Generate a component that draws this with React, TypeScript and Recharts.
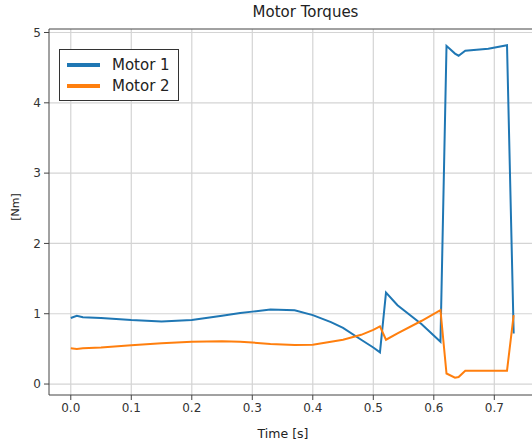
import React from 'react'
import { CartesianGrid, Line, LineChart, ReferenceLine, XAxis, YAxis } from 'recharts'

const times = [0, 0.01, 0.02, 0.05, 0.1, 0.15, 0.2, 0.25, 0.28, 0.3, 0.33, 0.37, 0.4, 0.43, 0.45, 0.48, 0.5, 0.511, 0.521, 0.54, 0.58, 0.611, 0.621, 0.635, 0.641, 0.652, 0.69, 0.721, 0.732]
const motor1 = [0.94, 0.97, 0.95, 0.94, 0.91, 0.89, 0.91, 0.97, 1.01, 1.03, 1.06, 1.05, 0.98, 0.88, 0.8, 0.63, 0.52, 0.45, 1.3, 1.12, 0.85, 0.6, 4.81, 4.7, 4.67, 4.74, 4.77, 4.82, 0.72]
const motor2 = [0.51, 0.5, 0.51, 0.52, 0.55, 0.58, 0.6, 0.61, 0.6, 0.59, 0.57, 0.555, 0.56, 0.6, 0.63, 0.7, 0.77, 0.82, 0.63, 0.72, 0.9, 1.05, 0.15, 0.09, 0.1, 0.19, 0.19, 0.19, 0.98]
const xTicks = [0, 0.1, 0.2, 0.3, 0.4, 0.5, 0.6, 0.7]
const yTicks = [0, 1, 2, 3, 4, 5]
const seriesNames = ['Motor 1', 'Motor 2']
const seriesColors = ['#1f77b4', '#ff7f0e']

const data = times.map((t, i) => ({ t, m1: motor1[i], m2: motor2[i] }))

const font = 'DejaVu Sans, sans-serif'
const X_MIN = -0.036
const X_MAX = 0.7623
const Y_MIN = -0.156
const Y_MAX = 5.05

function LegendBox() {
  return (
    <div style={{ position: 'absolute', left: 59, top: 49, border: '1.5px solid #333', background: '#fff', padding: '4px 8px 4px 7px', fontSize: 15, color: '#222' }}>
      {seriesNames.map((name, i) => (
        <div key={name} style={{ display: 'flex', alignItems: 'center', height: 21 }}>
          <span style={{ display: 'inline-block', width: 33, height: 4, background: seriesColors[i], marginRight: 12 }} />
          {name}
        </div>
      ))}
    </div>
  )
}

export default function App() {
  return (
    <div style={{ position: 'absolute', left: 0, top: 0, width: 532, height: 444, overflow: 'hidden', background: '#fff', fontFamily: font }}>
      <LineChart width={532} height={444} data={data} margin={{ top: 29, right: 0, left: 19, bottom: 19 }}>
        <CartesianGrid stroke="#d4d4d4" strokeWidth={1.2} horizontalValues={yTicks} verticalValues={xTicks} />
        <XAxis
          dataKey="t"
          type="number"
          domain={[X_MIN, X_MAX]}
          ticks={xTicks}
          tickFormatter={(v: number) => v.toFixed(1)}
          height={30}
          tickSize={5}
          tickMargin={3}
          stroke="#444"
          tick={{ fill: '#333', fontSize: 12, fontFamily: font }}
          allowDataOverflow
        />
        <YAxis
          type="number"
          domain={[Y_MIN, Y_MAX]}
          ticks={yTicks}
          width={30}
          tickSize={5}
          tickMargin={3}
          stroke="#444"
          tick={{ fill: '#333', fontSize: 12, fontFamily: font }}
          allowDataOverflow
        />
        <ReferenceLine y={Y_MAX} stroke="#444" strokeWidth={1} />
        <Line type="linear" dataKey="m1" name={seriesNames[0]} stroke={seriesColors[0]} strokeWidth={2} dot={false} isAnimationActive={false} />
        <Line type="linear" dataKey="m2" name={seriesNames[1]} stroke={seriesColors[1]} strokeWidth={2} dot={false} isAnimationActive={false} />
      </LineChart>
      <div style={{ position: 'absolute', left: 0, top: 3, width: 611, textAlign: 'center', fontSize: 15, color: '#222' }}>
        Motor Torques
      </div>
      <div style={{ position: 'absolute', left: 283, top: 426, transform: 'translateX(-50%)', fontSize: 12.5, color: '#222' }}>
        Time [s]
      </div>
      <div style={{ position: 'absolute', left: 15, top: 207, transform: 'translate(-50%, -50%) rotate(-90deg)', fontSize: 11, color: '#222' }}>
        [Nm]
      </div>
      <LegendBox />
    </div>
  )
}
